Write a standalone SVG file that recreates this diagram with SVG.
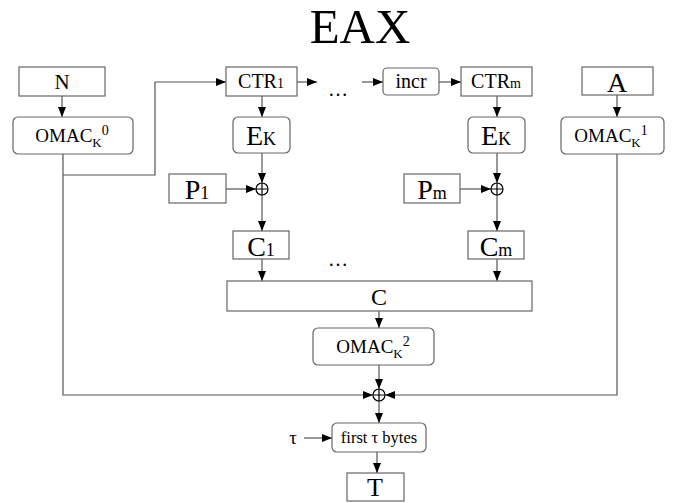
<svg xmlns="http://www.w3.org/2000/svg" width="673" height="503" viewBox="0 0 673 503">
<style>
  .box { fill: #fff; stroke: #666; stroke-width: 1.2; }
  .ln { fill: none; stroke: #555; stroke-width: 1.2; }
  .arr { marker-end: url(#ah); }
  text { font-family: "Liberation Serif", "Times New Roman", "DejaVu Serif", serif; fill: #000; text-anchor: middle; }
  .xor { fill: #fff; stroke: #000; stroke-width: 1.2; }
</style>
<defs>
  <marker id="ah" markerUnits="userSpaceOnUse" markerWidth="10" markerHeight="8" refX="10" refY="4" orient="auto">
    <path d="M0,0 L10,4 L0,8 z" fill="#000"/>
  </marker>
</defs>
<rect width="673" height="503" fill="#fff"/>
<text x="360" y="43" font-size="49">EAX</text>

<g id="connectors">
  <path class="ln arr" d="M62,96 V117"/>
  <path class="ln arr" d="M63,154 V395 H373"/>
  <path class="ln arr" d="M63,175 H155 V82 H226"/>
  <path class="ln arr" d="M297,82 H317"/>
  <path class="ln arr" d="M362,82 H383"/>
  <path class="ln arr" d="M439,82 H461"/>
  <path class="ln arr" d="M262,96 V117"/>
  <path class="ln arr" d="M262,153 V183"/>
  <path class="ln arr" d="M226,189 H256"/>
  <path class="ln arr" d="M262,195 V231"/>
  <path class="ln arr" d="M262,259 V281"/>
  <path class="ln arr" d="M497,96 V117"/>
  <path class="ln arr" d="M497,153 V183"/>
  <path class="ln arr" d="M460,189 H491"/>
  <path class="ln arr" d="M497,195 V231"/>
  <path class="ln arr" d="M497,259 V281"/>
  <path class="ln arr" d="M617,95 V117"/>
  <path class="ln arr" d="M617,154 V395 H385"/>
  <path class="ln arr" d="M379,311 V328"/>
  <path class="ln arr" d="M379,365 V389"/>
  <path class="ln arr" d="M379,401 V423"/>
  <path class="ln arr" d="M304,438 H332"/>
  <path class="ln arr" d="M377,452 V473"/>
</g>

<g id="N"><rect class="box" x="19" y="67" width="86" height="29"/><text x="62" y="89" font-size="21">N</text></g>
<g id="OMAC0"><rect class="box" x="13" y="117" width="120" height="37" rx="5"/><text x="72" y="142" font-size="19">OMAC<tspan font-size="13" dy="5">K</tspan><tspan font-size="14" dy="-12">0</tspan></text></g>
<g id="CTR1"><rect class="box" x="226" y="67" width="71" height="29"/><text x="261" y="88" font-size="20">CTR<tspan font-size="14">1</tspan></text></g>
<g id="EK1"><rect class="box" x="233" y="117" width="57" height="36" rx="5"/><text x="261" y="145" font-size="28">E<tspan font-size="18">K</tspan></text></g>
<g id="dots1"><text x="338" y="96" font-size="20">…</text></g>
<g id="incr"><rect class="box" x="383" y="68" width="56" height="27" rx="4"/><text x="411" y="88" font-size="20">incr</text></g>
<g id="CTRm"><rect class="box" x="461" y="67" width="71" height="29"/><text x="496" y="88" font-size="20">CTR<tspan font-size="14">m</tspan></text></g>
<g id="EKm"><rect class="box" x="468" y="117" width="57" height="36" rx="5"/><text x="496" y="145" font-size="28">E<tspan font-size="18">K</tspan></text></g>
<g id="A"><rect class="box" x="582" y="67" width="71" height="28"/><text x="617" y="92" font-size="28">A</text></g>
<g id="OMAC1"><rect class="box" x="561" y="117" width="103" height="37" rx="5"/><text x="611" y="142" font-size="19">OMAC<tspan font-size="13" dy="5">K</tspan><tspan font-size="14" dy="-12">1</tspan></text></g>
<g id="P1"><rect class="box" x="169" y="174" width="57" height="29"/><text x="197" y="199" font-size="28">P<tspan font-size="18">1</tspan></text></g>
<g id="xor1"><circle class="xor" cx="262" cy="189" r="6"/><path d="M256,189 H268 M262,183 V195" stroke="#000" stroke-width="1.2"/></g>
<g id="Pm"><rect class="box" x="404" y="174" width="56" height="29"/><text x="432" y="199" font-size="28">P<tspan font-size="18">m</tspan></text></g>
<g id="xorm"><circle class="xor" cx="497" cy="189" r="6"/><path d="M491,189 H503 M497,183 V195" stroke="#000" stroke-width="1.2"/></g>
<g id="C1"><rect class="box" x="233" y="231" width="56" height="28"/><text x="261" y="256" font-size="28">C<tspan font-size="18">1</tspan></text></g>
<g id="dots2"><text x="338" y="266" font-size="20">…</text></g>
<g id="Cm"><rect class="box" x="468" y="231" width="56" height="28"/><text x="496" y="256" font-size="28">C<tspan font-size="18">m</tspan></text></g>
<g id="C"><rect class="box" x="227" y="281" width="305" height="30"/><text x="379" y="305" font-size="24">C</text></g>
<g id="OMAC2"><rect class="box" x="313" y="328" width="121" height="37" rx="5"/><text x="373" y="353" font-size="19">OMAC<tspan font-size="13" dy="5">K</tspan><tspan font-size="14" dy="-12">2</tspan></text></g>
<g id="xor3"><circle class="xor" cx="379" cy="395" r="6"/><path d="M373,395 H385 M379,389 V401" stroke="#000" stroke-width="1.2"/></g>
<g id="tau"><text x="293" y="444" font-size="19">τ</text></g>
<g id="first"><rect class="box" x="332" y="423" width="94" height="29" rx="5"/><text x="379" y="443" font-size="16.5">first τ bytes</text></g>
<g id="T"><rect class="box" x="347" y="473" width="57" height="28"/><text x="375" y="496" font-size="26">T</text></g>
</svg>
